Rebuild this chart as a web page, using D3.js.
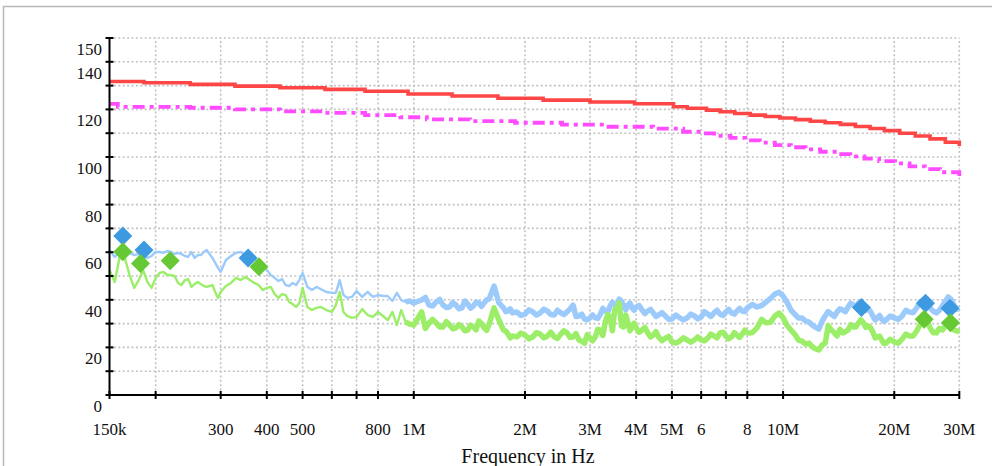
<!DOCTYPE html>
<html><head><meta charset="utf-8">
<script src="https://cdn.jsdelivr.net/npm/d3@7"></script>
<style>html,body{margin:0;padding:0;background:#fff;overflow:hidden}svg{display:block}</style>
</head><body>
<svg id="chart" width="992" height="466"></svg>
<script>
// ---------- data ----------
const freqMHz = [0.15,0.155,0.16,0.165,0.17,0.175,0.18,0.185,0.19,0.195,0.2,0.205,0.21,0.215,0.22,0.225,0.23,0.235,0.24,0.245,0.25,0.255,0.26,0.265,0.27,0.275,0.28,0.285,0.29,0.295,0.3,
0.31,0.32,0.33,0.34,0.35,0.36,0.37,0.38,0.39,0.4,0.41,0.42,0.43,0.44,0.45,0.46,0.47,0.48,0.49,0.5,
0.515,0.53,0.545,0.56,0.58,0.6,0.615,0.63,0.645,0.66,0.68,0.7,
0.725,0.75,0.775,0.8,0.825,0.85,0.875,0.9,0.925,0.95,0.975,1.0,
1.05,1.1,1.15,1.2,1.25,1.3,1.35,1.4,1.45,1.5,1.55,1.6,1.65,1.7,1.75,1.8,1.85,1.9,
2.0,2.1,2.2,2.3,2.4,2.5,2.6,2.7,2.8,2.9,3.0,3.1,3.2,3.3,3.4,3.5,3.6,3.7,3.8,3.9,4.0,
4.15,4.3,4.45,4.6,4.8,
5.0,5.25,5.5,5.75,6.0,6.25,6.5,6.75,7.0,7.25,7.5,7.75,8.0,
8.5,9,9.5,10,10.5,11,11.5,12,12.5,13,13.5,14,14.5,15,15.5,16,16.5,17,17.5,18,18.5,19,
20,21,22,23,24,25,26,27,28,29,30];

const peakDb = [60.9,58.0,60.1,59.7,59.7,58.8,59.2,58.4,57.6,58.4,60.1,60.1,59.7,60.5,60.1,59.2,59.7,59.2,58.4,58.0,60.1,57.6,58.8,58.8,60.1,60.9,59.2,57.6,55.5,53.4,51.7,
56.7,58.4,59.7,60.1,58.8,57.6,57.1,55.9,55.0,52.5,50.4,49.2,47.9,48.7,46.2,45.8,47.1,46.2,48.3,51.3,
45.4,44.1,45.4,44.5,43.3,42.9,42.9,48.3,42.0,40.8,41.2,43.7,
41.2,43.3,41.2,42.0,41.6,41.6,39.5,42.9,39.9,39.1,39.5,38.7,
39.9,37.8,39.1,37.8,37.0,37.8,36.6,38.2,37.4,38.7,38.7,40.3,45.8,38.7,36.6,35.3,34.5,34.9,
34.0,34.9,34.5,35.3,33.6,34.5,34.9,37.8,33.2,31.9,32.4,32.4,34.0,35.3,37.4,38.2,40.3,37.4,37.8,36.6,37.0,
35.7,35.3,34.5,33.6,33.2,
31.9,32.4,32.4,33.2,32.8,34.0,34.5,34.0,34.9,34.5,35.3,35.3,36.6,
37.0,39.1,42.4,41.6,35.7,32.4,31.1,29.4,27.7,33.2,34.0,34.9,35.7,37.0,37.8,38.7,37.4,36.1,33.2,32.4,31.9,31.5,
32.4,33.2,34.9,36.6,39.9,36.6,34.5,37.4,41.2,37.8,36.6];

const avgDb = [52.5,47.5,58.4,57.6,50.4,45.0,48.3,52.5,47.5,45.0,49.2,51.3,51.7,50.4,50.4,50.0,47.1,46.2,48.3,48.7,45.4,46.6,47.5,46.6,45.8,45.4,45.8,46.2,43.3,40.8,43.3,
45.8,47.1,49.2,48.3,49.6,48.3,47.1,46.2,44.1,45.0,45.4,42.4,40.8,42.4,42.0,39.1,38.2,37.0,38.7,45.0,
37.0,35.7,36.6,37.0,35.7,34.9,37.8,43.3,34.9,33.2,32.4,32.8,
36.1,33.6,32.8,34.9,33.2,31.5,34.9,29.4,35.7,30.7,29.8,29.4,
34.9,30.3,30.3,28.6,29.4,28.2,28.6,27.3,28.6,31.1,28.2,29.8,36.6,31.5,27.3,25.6,24.8,24.4,
25.2,24.4,25.6,24.8,24.4,25.6,26.1,24.4,23.1,21.8,23.9,24.4,27.3,30.7,32.8,35.7,38.7,28.6,30.3,28.6,28.2,
27.3,26.1,25.2,24.4,23.9,
22.3,22.7,23.1,23.1,23.1,23.9,24.8,26.1,24.8,24.4,25.2,25.6,26.1,
28.2,30.3,33.2,32.4,27.3,23.1,21.4,20.2,18.9,21.8,27.3,24.8,26.1,27.3,28.6,30.3,30.3,29.0,26.5,24.4,23.1,21.8,
22.3,23.5,24.8,26.9,30.7,28.2,26.1,27.3,29.4,27.3,26.5];

// extra readings of the dense noise band above 1 MHz
const detailFreqMHz = [1.075,1.125,1.175,1.225,1.275,1.325,1.375,1.425,1.475,1.525,1.575,1.775,1.825,1.95,2.05,2.15,2.25,2.35,2.45,2.55,2.65,2.75,2.85,2.95,3.05,3.15,3.25,3.35,3.45,3.55,3.65,3.75,3.85,3.95,
4.075,4.225,4.375,4.525,4.7,4.9,5.125,5.375,5.625,5.875,6.125,6.375,6.625,6.875,7.125,7.375,7.625,7.875,8.25,8.75,9.25,9.75,10.25,10.75,11.25,11.75,12.25,12.75,13.25,13.75,
14.25,14.75,15.25,15.75,16.25,16.75,17.25,17.75,18.25,18.75,19.5,20.5,21.5,22.5,23.5,24.5,25.5,26.5,27.5,28.5,29.5];
const peakDetailDb = [41.0,37.4,40.2,36.8,38.8,36.2,39.5,36.5,39.0,37.2,40.0,35.0,36.2,33.4,35.8,33.6,36.0,33.8,35.6,33.8,36.2,33.0,34.0,31.6,33.6,32.2,36.4,34.6,39.0,36.2,39.4,35.8,38.6,35.6,
37.6,34.2,36.0,33.0,34.6,31.8,33.6,31.6,34.0,32.0,35.0,33.0,35.6,33.4,36.0,34.0,36.4,35.0,38.0,37.6,40.6,43.2,39.0,34.0,32.4,30.6,28.4,31.0,35.0,33.0,
36.2,35.0,38.6,37.2,39.2,35.6,35.0,31.6,33.4,31.0,33.2,31.8,35.6,34.6,39.2,40.4,35.2,35.6,39.4,40.2,36.0];
const avgDetailDb = [28.0,31.8,28.6,30.8,27.8,29.6,27.0,29.4,27.4,30.0,27.2,26.8,24.0,26.0,23.6,26.2,24.0,26.4,23.8,27.0,24.2,25.8,22.6,25.4,22.8,27.6,25.0,33.8,27.0,36.6,29.0,33.6,27.0,30.2,
26.4,28.4,24.4,26.6,22.8,24.6,21.8,24.0,22.2,24.4,22.8,25.6,24.0,26.4,23.6,26.2,24.2,27.2,26.2,31.8,30.6,34.4,29.2,25.6,22.6,21.8,19.4,21.0,29.2,26.2,
27.6,26.6,29.6,28.6,31.6,28.4,28.2,24.0,24.8,21.6,23.4,21.8,25.6,24.8,29.6,31.4,26.2,28.0,29.0,28.6,27.0];

const limitFreq = [0.15,0.186,0.248,0.328,0.434,0.575,0.738,0.965,1.27,1.69,2.24,3.0,3.96,5.05,5.5,6.2,6.75,7.4,8.15,8.95,9.8,10.8,11.85,13.0,14.3,15.7,17.2,18.8,20.7,22.8,25.0,27.5,30];
const limitDb   = [131.7,131.2,130.5,129.8,129.1,128.4,127.6,126.5,125.6,124.7,123.9,123.1,122.4,121.1,120.5,119.7,119.0,118.3,117.6,117.0,116.4,115.7,115.0,114.4,113.7,112.8,112.0,111.1,110.0,108.8,107.6,106.2,104.6];

const avgLimitFreq = [0.15,0.158,0.248,0.328,0.434,0.575,0.738,0.92,1.085,1.42,1.88,2.52,3.32,4.45,5.36,6.0,6.5,7.2,7.9,8.65,9.5,10.5,11.5,12.6,13.8,15.2,16.6,18.2,20.1,22.0,24.2,26.6,30];
const avgLimitDb   = [122.3,121.1,120.7,120.0,119.2,118.5,117.6,116.7,115.8,115.1,114.4,113.6,112.7,111.9,110.6,109.9,108.9,108.0,107.0,106.0,105.0,104.1,103.2,102.2,101.2,100.3,99.3,98.3,97.3,96.1,94.9,93.6,92.0];

const peakMarkFreq = [0.163,0.186,0.356,16.3,24.3,28.3];
const peakMarkDb   = [66.8,60.9,57.6,36.8,38.5,36.4];
const avgMarkFreq  = [0.163,0.182,0.219,0.381,24.1,28.4];
const avgMarkDb    = [60.2,55.3,56.4,53.9,31.8,30.4];

const xTicks = [0.15,0.2,0.3,0.4,0.5,0.6,0.7,0.8,1,2,3,4,5,6,7,8,10,20,30];
const xTickLabels = ["150k","","300","400","500","","","800","1M","2M","3M","4M","5M","6","","8","10M","20M","30M"];
const yTicks = [0,10,20,30,40,50,60,70,80,90,100,110,120,130,140,150];
const yTickLabels = ["0","","20","","40","","60","","80","","100","","120","","140","150"];
const xTitle = "Frequency in Hz";

// ---------- drawing ----------
const svg = d3.select("#chart");
const font = "'Liberation Serif','Times New Roman',serif";
const x = d3.scaleLog().domain([0.15, 30]).range([109.5, 959.3]);
const y = d3.scaleLinear().domain([0, 150]).range([395, 38]);

// frame
svg.append("rect").attr("x", 3.5).attr("y", 6.5).attr("width", 1000).attr("height", 500)
  .attr("fill", "none").attr("stroke", "#b8b8b8").attr("stroke-width", 1.5);

// grid
const grid = svg.append("g").attr("stroke", "#c2c2c2").attr("stroke-width", 1.6).attr("stroke-dasharray", "2,2.4");
grid.selectAll("line.h").data(yTicks.filter(v => v > 0)).join("line")
  .attr("x1", x(0.15)).attr("x2", x(30)).attr("y1", d => y(d)).attr("y2", d => y(d));
grid.selectAll("line.v").data(xTicks.filter(v => v > 0.15)).join("line")
  .attr("y1", y(0)).attr("y2", y(150)).attr("x1", d => x(d)).attr("x2", d => x(d));

// traces
const pts = (fs, vs) => fs.map((f, i) => [f, vs[i]]);
const merged = (a, b) => a.concat(b).sort((p, q) => p[0] - q[0]);
const line = d3.line().x(d => x(d[0])).y(d => y(d[1]));
const peakPts = merged(pts(freqMHz, peakDb), pts(detailFreqMHz, peakDetailDb));
const avgPts = merged(pts(freqMHz, avgDb), pts(detailFreqMHz, avgDetailDb));
function trace(data, color) {
  svg.append("path").attr("d", line(data)).attr("fill", "none").attr("stroke", color)
    .attr("stroke-width", 2.4).attr("stroke-linejoin", "round");
  svg.append("path").attr("d", line(data.filter(d => d[0] >= 0.95))).attr("fill", "none").attr("stroke", color)
    .attr("stroke-width", 5.5).attr("stroke-linejoin", "round");
}
trace(peakPts, "#9ccbfb");
trace(avgPts, "#9cee68");

// limits
const stepLine = d3.line().x(d => x(d[0])).y(d => y(d[1])).curve(d3.curveStepAfter);
svg.append("path").attr("d", stepLine(pts(limitFreq, limitDb))).attr("fill", "none")
  .attr("stroke", "#ff4646").attr("stroke-width", 3.6);
svg.append("path").attr("d", stepLine(pts(avgLimitFreq, avgLimitDb))).attr("fill", "none")
  .attr("stroke", "#ff4cff").attr("stroke-width", 3.8).attr("stroke-dasharray", "12,5,4,5");

// markers
const diamond = (cx, cy, r) => `M${cx},${cy - r}L${cx + r},${cy}L${cx},${cy + r}L${cx - r},${cy}Z`;
svg.append("g").selectAll("path").data(pts(peakMarkFreq, peakMarkDb)).join("path")
  .attr("d", d => diamond(x(d[0]), y(d[1]), 9.5)).attr("fill", "#3d9ae0");
svg.append("g").selectAll("path").data(pts(avgMarkFreq, avgMarkDb)).join("path")
  .attr("d", d => diamond(x(d[0]), y(d[1]), 9.5)).attr("fill", "#66c834");

// axes
const ax = svg.append("g").attr("stroke", "#000").attr("stroke-width", 2);
ax.append("line").attr("x1", x(0.15)).attr("x2", x(0.15)).attr("y1", y(150)).attr("y2", y(0));
ax.append("line").attr("x1", x(0.15)).attr("x2", x(30)).attr("y1", y(0)).attr("y2", y(0));
ax.selectAll("line.yt").data(yTicks).join("line").attr("class", "yt")
  .attr("x1", x(0.15) - 4).attr("x2", x(0.15) + 4).attr("y1", d => y(d)).attr("y2", d => y(d));
ax.selectAll("line.xt").data(xTicks).join("line").attr("class", "xt")
  .attr("y1", y(0) - 4).attr("y2", y(0) + 4).attr("x1", d => x(d)).attr("x2", d => x(d));

svg.append("g").selectAll("text").data(yTicks).join("text")
  .attr("x", 102).attr("y", d => y(d) + 17).attr("text-anchor", "end")
  .attr("font-family", font).attr("font-size", 17).attr("fill", "#111")
  .text((d, i) => yTickLabels[i]);
svg.append("g").selectAll("text").data(xTicks).join("text")
  .attr("x", d => x(d)).attr("y", 435).attr("text-anchor", "middle")
  .attr("font-family", font).attr("font-size", 17).attr("fill", "#111")
  .text((d, i) => xTickLabels[i]);
svg.append("text").attr("x", 528).attr("y", 463).attr("text-anchor", "middle")
  .attr("font-family", font).attr("font-size", 20).attr("fill", "#111").text(xTitle);
</script>
</body></html>
